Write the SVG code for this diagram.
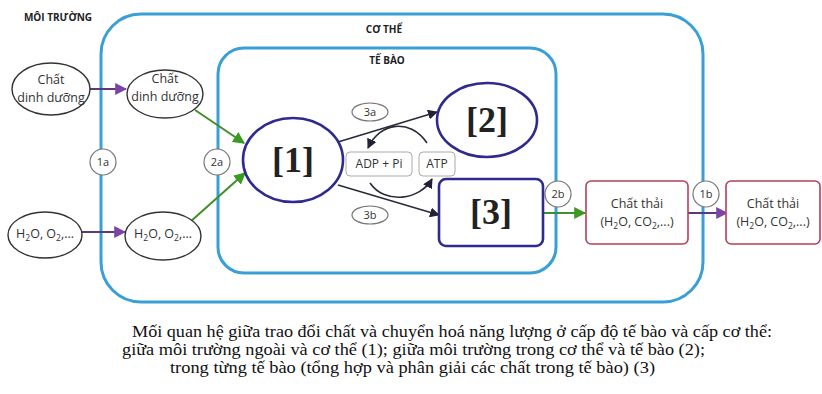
<svg xmlns="http://www.w3.org/2000/svg" width="822" height="394" viewBox="0 0 822 394">
<style>
.bg{fill:#fff}
.zone{fill:none;stroke:#3a9fd6;stroke-width:3}
.zt{font-family:"Open Sans","Liberation Sans",sans-serif;font-weight:bold;font-size:10px;fill:#222;text-anchor:middle}
.el{fill:#fff;stroke:#333;stroke-width:1.4}
.lbl{font-family:"Open Sans","Liberation Sans",sans-serif;font-size:12.5px;fill:#333;text-anchor:middle}
.sm{font-size:8.5px}
.tag{fill:#fff;stroke:#777;stroke-width:1.2}
.tagt{font-family:"Open Sans","Liberation Sans",sans-serif;font-size:11px;fill:#333;text-anchor:middle}
.abt{font-family:"Open Sans","Liberation Sans",sans-serif;font-size:12px;fill:#333;text-anchor:middle}
.big{fill:#fff;stroke:#2e2a8f;stroke-width:2.6}
.bigt{font-family:"Liberation Serif",serif;font-weight:bold;font-size:36px;fill:#222;text-anchor:middle}
.box{fill:#fff;stroke:#b5405a;stroke-width:1.6}
.ab{fill:#fff;stroke:#aaa;stroke-width:1}
.pur{stroke:#5a3a78;stroke-width:2;fill:none}
.grn{stroke:#3f8f2a;stroke-width:2;fill:none}
.blk{stroke:#2a2a3a;stroke-width:1.6;fill:none}
.cap{font-family:"Liberation Serif",serif;font-size:16.5px;fill:#111}
</style>
<defs>
<marker id="mp" viewBox="0 0 10 10" refX="9" refY="5" markerWidth="12" markerHeight="12" markerUnits="userSpaceOnUse" orient="auto"><path d="M0,0L10,5L0,10z" fill="#7b45a8"/></marker>
<marker id="mg" viewBox="0 0 10 10" refX="9" refY="5" markerWidth="12" markerHeight="12" markerUnits="userSpaceOnUse" orient="auto"><path d="M0,0L10,5L0,10z" fill="#3a9a22"/></marker>
<marker id="mk" viewBox="0 0 10 10" refX="9" refY="5" markerWidth="10" markerHeight="10" markerUnits="userSpaceOnUse" orient="auto"><path d="M0,0L10,5L0,10z" fill="#222236"/></marker>
</defs>
<rect class="bg" x="0" y="0" width="822" height="394"/>

<g id="zones">
<rect class="zone" x="101" y="14" width="602" height="288" rx="40"/>
<rect class="zone" x="218" y="48" width="338" height="225" rx="26"/>
<text class="zt" x="58" y="21">MÔI TRƯỜNG</text>
<text class="zt" x="384" y="33">CƠ THỂ</text>
<text class="zt" x="387" y="64">TẾ BÀO</text>
</g>

<g id="connectors">
<line class="pur" x1="89" y1="89" x2="126" y2="89" marker-end="url(#mp)"/>
<line class="pur" x1="82" y1="232" x2="125" y2="232" marker-end="url(#mp)"/>
<line class="grn" x1="195" y1="110" x2="244" y2="143" marker-end="url(#mg)"/>
<line class="grn" x1="190" y1="222" x2="245" y2="173" marker-end="url(#mg)"/>
<line class="blk" x1="338" y1="142" x2="437" y2="112" marker-end="url(#mk)"/>
<line class="blk" x1="338" y1="185" x2="439" y2="215" marker-end="url(#mk)"/>
<path class="blk" d="M427,143 C410,118 380,122 368,148" marker-end="url(#mk)"/>
<path class="blk" d="M370,183 C385,205 420,200 432,179" marker-end="url(#mk)"/>
<line class="grn" x1="543" y1="213" x2="585" y2="213" marker-end="url(#mg)"/>
<line class="pur" x1="688" y1="213" x2="727" y2="213" marker-end="url(#mp)"/>
</g>

<g id="n-chat1"><ellipse class="el" cx="51" cy="89" rx="39" ry="26"/><text class="lbl" x="51" y="84">Chất</text><text class="lbl" x="51" y="102">dinh dưỡng</text></g>
<g id="n-chat2"><ellipse class="el" cx="165" cy="94" rx="38" ry="24"/><text class="lbl" x="165" y="83">Chất</text><text class="lbl" x="165" y="101">dinh dưỡng</text></g>
<g id="n-h2o1"><ellipse class="el" cx="45" cy="235" rx="37" ry="23"/><text class="lbl" x="45" y="238">H<tspan class="sm" dy="3">2</tspan><tspan dy="-3">O, O</tspan><tspan class="sm" dy="3">2</tspan><tspan dy="-3">,…</tspan></text></g>
<g id="n-h2o2"><ellipse class="el" cx="163" cy="236" rx="38" ry="24"/><text class="lbl" x="163" y="238">H<tspan class="sm" dy="3">2</tspan><tspan dy="-3">O, O</tspan><tspan class="sm" dy="3">2</tspan><tspan dy="-3">,…</tspan></text></g>

<g id="t-1a"><circle class="tag" cx="103" cy="162" r="13"/><text class="tagt" x="103" y="166">1a</text></g>
<g id="t-2a"><circle class="tag" cx="217" cy="162" r="13"/><text class="tagt" x="217" y="166">2a</text></g>
<g id="t-2b"><circle class="tag" cx="558" cy="194" r="13"/><text class="tagt" x="558" y="198">2b</text></g>
<g id="t-1b"><circle class="tag" cx="706" cy="194" r="13"/><text class="tagt" x="706" y="198">1b</text></g>
<g id="t-3a"><ellipse class="tag" cx="370" cy="112" rx="18" ry="9"/><text class="tagt" x="370" y="116">3a</text></g>
<g id="t-3b"><ellipse class="tag" cx="370" cy="215" rx="18" ry="9"/><text class="tagt" x="370" y="219">3b</text></g>

<g id="n-1"><ellipse class="big" cx="293" cy="160" rx="50" ry="42"/><text class="bigt" x="293" y="172">[1]</text></g>
<g id="n-2"><ellipse class="big" cx="487" cy="120" rx="50" ry="37"/><text class="bigt" x="487" y="132">[2]</text></g>
<g id="n-3"><rect class="big" x="439" y="179" width="104" height="67" rx="7"/><text class="bigt" x="491" y="224">[3]</text></g>

<g id="n-adp"><rect class="ab" x="346" y="152" width="66" height="24" rx="4"/><text class="abt" x="379" y="168">ADP + Pi</text></g>
<g id="n-atp"><rect class="ab" x="419" y="152" width="36" height="24" rx="4"/><text class="abt" x="437" y="168">ATP</text></g>

<g id="n-thai1"><rect class="box" x="586" y="181" width="102" height="63" rx="5"/><text class="lbl" x="637" y="208">Chất thải</text><text class="lbl" x="637" y="226">(H<tspan class="sm" dy="3">2</tspan><tspan dy="-3">O, CO</tspan><tspan class="sm" dy="3">2</tspan><tspan dy="-3">,...)</tspan></text></g>
<g id="n-thai2"><rect class="box" x="726" y="181" width="94" height="63" rx="5"/><text class="lbl" x="773" y="208">Chất thải</text><text class="lbl" x="773" y="226">(H<tspan class="sm" dy="3">2</tspan><tspan dy="-3">O, CO</tspan><tspan class="sm" dy="3">2</tspan><tspan dy="-3">,...)</tspan></text></g>

<g id="caption">
<text class="cap" x="132" y="337" textLength="640" lengthAdjust="spacingAndGlyphs">Mối quan hệ giữa trao đổi chất và chuyển hoá năng lượng ở cấp độ tế bào và cấp cơ thể:</text>
<text class="cap" x="122" y="355" textLength="583" lengthAdjust="spacingAndGlyphs">giữa môi trường ngoài và cơ thể (1); giữa môi trường trong cơ thể và tế bào (2);</text>
<text class="cap" x="170" y="373" textLength="485" lengthAdjust="spacingAndGlyphs">trong từng tế bào (tổng hợp và phân giải các chất trong tế bào) (3)</text>
</g>
</svg>
